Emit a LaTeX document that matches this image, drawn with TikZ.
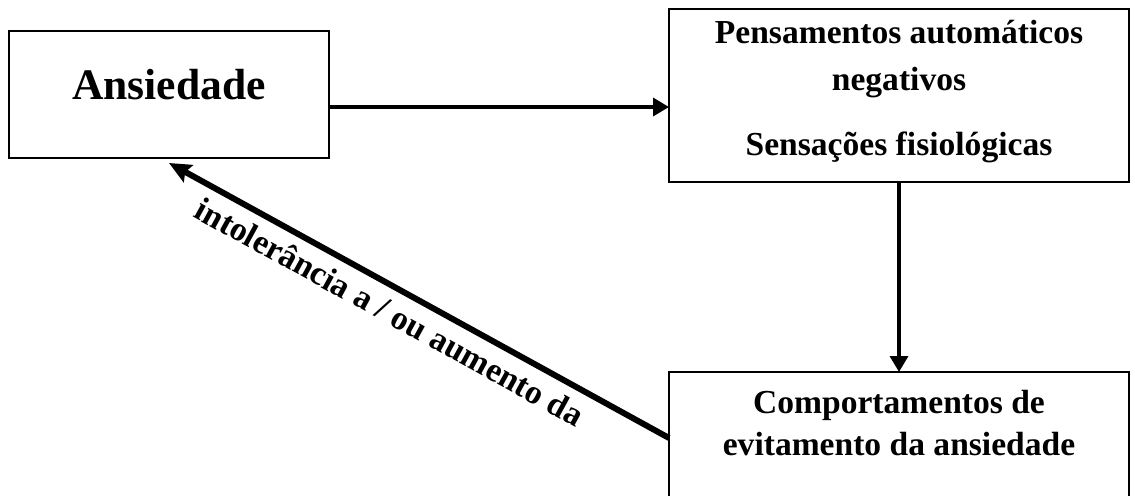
\documentclass[tikz,border=0pt]{standalone}
\usepackage{fontspec}
\setmainfont{Liberation Serif}
\usetikzlibrary{arrows.meta}
\begin{document}
\begin{tikzpicture}[x=0.02cm,y=-0.02cm,
  box/.style={draw, line width=1.5pt, rectangle, inner sep=0pt, outer sep=0pt},
  txt/.style={font=\bfseries\fontsize{19.1}{23}\selectfont, inner sep=0pt, anchor=base},
  bigtxt/.style={font=\bfseries\fontsize{24.8}{29}\selectfont, inner sep=0pt, anchor=base},
  lbl/.style={font=\bfseries\fontsize{19.2}{23}\selectfont, inner sep=0pt},
  flow/.style={line width=2.6pt, -{Triangle[length=9pt,width=10pt]}},
  back/.style={line width=3.4pt, {Stealth[length=12.5pt,width=11pt,inset=2pt]}-}]
\useasboundingbox (0,0) rectangle (1135,495);
\clip (0,0) rectangle (1135,495);

% boxes
\node[box, minimum width=6.4cm, minimum height=2.54cm] (A) at (169,94.5) {};
\node[box, minimum width=9.2cm, minimum height=3.46cm] (B) at (899,95.5) {};
\node[box, minimum width=9.2cm, minimum height=3.36cm] (C) at (899,456) {};

% box texts
\node[bigtxt] (a1) at (A.center |- 0,99) {Ansiedade};
\node[txt] (b1) at (B.center |- 0,43) {Pensamentos automáticos};
\node[txt] (b2) at (B.center |- 0,90) {negativos};
\node[txt] (b3) at (B.center |- 0,155) {Sensações fisiológicas};
\node[txt] (c1) at (C.center |- 0,413) {Comportamentos de};
\node[txt] (c2) at (C.center |- 0,455) {evitamento da ansiedade};

% connectors
\draw[flow] (A.east |- 0,107) -- (B.west |- 0,107);
\draw[flow] (B.south) -- (C.north);
\draw[back] ([yshift=-0.1cm]A.south) -- (C.west |- 0,438)
  node[lbl, sloped, pos=0.465, below=5pt] (d1) {intolerância a / ou aumento da};
\end{tikzpicture}
\end{document}
